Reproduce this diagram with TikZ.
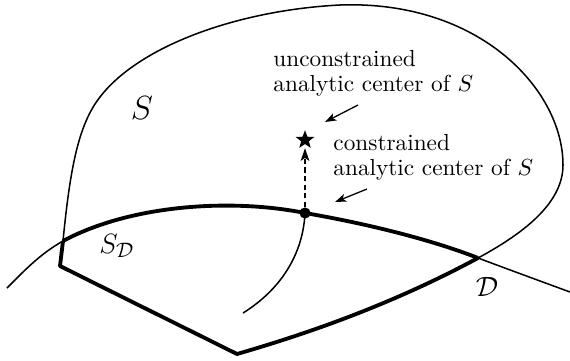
\documentclass[tikz,border=0pt]{standalone}
\usetikzlibrary{shapes.geometric,arrows.meta}
\begin{document}
\begin{tikzpicture}[x=0.43pt,y=-0.43pt,
  thinline/.style={line width=0.65pt},
  thickline/.style={line width=1.65pt, line join=round},
  lbl/.style={anchor=north west, inner sep=0pt, align=left},
  ptr/.style={line width=0.55pt,-{Stealth[length=4.8pt,width=3.4pt,inset=1.2pt]}},
  bigmath/.style={inner sep=0pt}]
\useasboundingbox (0,0) rectangle (570,360);
% key points
\coordinate (L) at (60,266);
\coordinate (B) at (237,354);
\coordinate (R) at (478,258);
\coordinate (X) at (63,241);
\coordinate (Dl) at (7,288);
\coordinate (Dr) at (570,292);
\coordinate (Cend) at (243,313);
% outer boundary of S (thin part)
\draw[thinline] (X) .. controls (70,170) and (78,125) .. (100,97)
  .. controls (140,45) and (240,10) .. (340,5)
  .. controls (480,0) and (563,90) .. (563,165)
  .. controls (563,200) and (530,230) .. (R);
% curve D (thin ends)
\draw[thinline] (Dl) .. controls (25,270) and (40,254) .. (X);
\draw[thinline] (R) .. controls (510,270) and (540,281) .. (Dr);
% S_D boundary (thick)
\draw[thickline] (X) .. controls (130,205) and (230,198) .. (305,213) coordinate (P)
  .. controls (380,226) and (440,243) .. (R);
\draw[thickline] (R) .. controls (400,300) and (320,330) .. (B) -- (L) -- (X);
% central path
\draw[thinline] (P) .. controls (303,255) and (280,290) .. (Cend);
% points
\node[circle, fill, inner sep=0pt, minimum size=4.8pt] (dot) at (P) {};
\node[star, star points=5, star point ratio=2.4, fill, inner sep=0pt, minimum size=8.4pt] (star) at (305,140) {};
\draw[line width=1.1pt, dash pattern=on 2.2pt off 1.5pt, -{Stealth[length=5.4pt,width=3.6pt,inset=1.2pt]}, shorten >=1.5pt] (dot) -- (star);
% labels
\node[lbl] (ulbl) at (273,50) {unconstrained\\[-1.4pt]analytic center of $S$};
\node[lbl] (clbl) at (333,134) {constrained\\[-1.4pt]analytic center of $S$};
\node[bigmath, font=\Large] (Slbl) at (142,108) {$S$};
\node[bigmath, font=\fontsize{13}{15}\selectfont] (SDlbl) at (117,246) {$S_{\mathcal D}$};
\node[bigmath, font=\fontsize{13}{15}\selectfont] (Dlbl) at (487,287) {$\mathcal D$};
% pointer arrows
\coordinate (u1) at (358,105);
\coordinate (u2) at (325,122);
\coordinate (c1) at (367,189);
\coordinate (c2) at (335,202);
\draw[ptr] (u1) -- (u2);
\draw[ptr] (c1) -- (c2);
\end{tikzpicture}
\end{document}
